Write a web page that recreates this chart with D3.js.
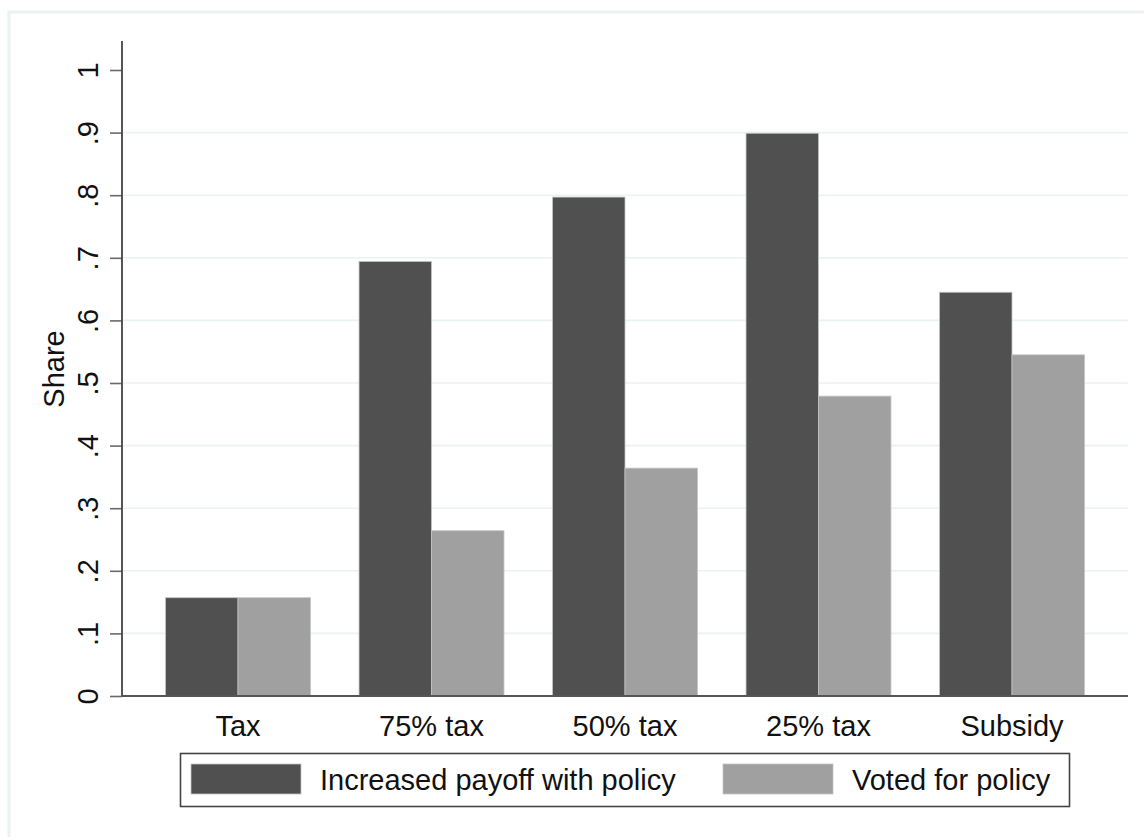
<!DOCTYPE html>
<html>
<head>
<meta charset="utf-8">
<script src="https://cdn.jsdelivr.net/npm/d3@7"></script>
<style>
  html, body { margin: 0; padding: 0; background: #ffffff; }
  svg { display: block; font-family: "Liberation Sans", Arial, sans-serif; }
</style>
</head>
<body>
<svg id="chart" width="1144" height="837"></svg>
<script>
// ---- data ----
const categories = ["Tax", "75% tax", "50% tax", "25% tax", "Subsidy"];
const seriesNames = ["Increased payoff with policy", "Voted for policy"];
const increasedPayoff = [0.157, 0.694, 0.797, 0.899, 0.645];
const votedForPolicy = [0.157, 0.264, 0.364, 0.479, 0.545];
const yTickValues = [0, 0.1, 0.2, 0.3, 0.4, 0.5, 0.6, 0.7, 0.8, 0.9, 1];
const yTickLabels = ["0", ".1", ".2", ".3", ".4", ".5", ".6", ".7", ".8", ".9", "1"];
const gridValues = [0.1, 0.2, 0.3, 0.4, 0.5, 0.6, 0.7, 0.8, 0.9];
const yTitle = "Share";

const colors = ["#505050", "#a0a0a0"];
const seriesValues = [increasedPayoff, votedForPolicy];
const rows = categories.map((c, i) => ({
  cat: c,
  vals: seriesNames.map((s, j) => ({ key: s, value: seriesValues[j][i], color: colors[j] }))
}));

const svg = d3.select("#chart");

// outer frame (Stata graph region)
svg.append("rect")
  .attr("x", 9).attr("y", 12)
  .attr("width", 1144).attr("height", 840)
  .attr("fill", "#ffffff")
  .attr("stroke", "#eaf2f2").attr("stroke-width", 3);

const left = 122, right = 1128, y0px = 696, y1px = 70;

const x = d3.scaleBand().domain(categories).range([left, right])
  .paddingInner(0.251).paddingOuter(0.225);
const xs = d3.scaleBand().domain(seriesNames).range([0, x.bandwidth()]).padding(0);
const y = d3.scaleLinear().domain([0, 1]).range([y0px, y1px]);

// gridlines
svg.append("g").selectAll("line").data(gridValues).join("line")
  .attr("x1", left).attr("x2", right)
  .attr("y1", d => y(d)).attr("y2", d => y(d))
  .attr("stroke", "#eaf2f3").attr("stroke-width", 1.6);

// bars
const groups = svg.append("g").selectAll("g").data(rows).join("g")
  .attr("transform", d => `translate(${x(d.cat)},0)`);
groups.selectAll("rect").data(d => d.vals).join("rect")
  .attr("x", d => xs(d.key))
  .attr("width", xs.bandwidth())
  .attr("y", d => y(d.value))
  .attr("height", d => y(0) - y(d.value))
  .attr("fill", d => d.color)
  .attr("stroke", "#c4c4c4").attr("stroke-width", 0.8);

// y axis
const yAxis = d3.axisLeft(y).tickValues(yTickValues)
  .tickFormat((d, i) => yTickLabels[i]).tickSize(12).tickSizeOuter(0);
const gy = svg.append("g").attr("transform", `translate(${left},0)`).call(yAxis);
gy.select(".domain").remove();
gy.selectAll(".tick line").attr("stroke", "#6a6a6a").attr("stroke-width", 1.6);
gy.selectAll(".tick text")
  .attr("x", 0).attr("y", 0).attr("dy", 0)
  .attr("transform", "translate(-24,0) rotate(-90)")
  .attr("text-anchor", "middle")
  .attr("fill", "#111").attr("font-size", 29)
  .attr("font-family", "Liberation Sans, Arial, sans-serif");
svg.append("line")
  .attr("x1", left).attr("x2", left).attr("y1", 41).attr("y2", y0px + 0.5)
  .attr("stroke", "#444").attr("stroke-width", 1.8);

// x axis
const xAxis = d3.axisBottom(x).tickSize(0).tickSizeOuter(0);
const gx = svg.append("g").attr("transform", `translate(0,${y0px})`).call(xAxis);
gx.select(".domain").remove();
gx.selectAll(".tick text")
  .attr("y", 40).attr("dy", 0)
  .attr("fill", "#111").attr("font-size", 29)
  .attr("font-family", "Liberation Sans, Arial, sans-serif");
svg.append("line")
  .attr("x1", left - 1).attr("x2", right).attr("y1", y0px).attr("y2", y0px)
  .attr("stroke", "#555").attr("stroke-width", 1.8);

// y title
svg.append("text")
  .attr("transform", `translate(64,369) rotate(-90)`)
  .attr("text-anchor", "middle")
  .attr("font-size", 29).attr("fill", "#111")
  .text(yTitle);

// legend
const lg = svg.append("g");
lg.append("rect")
  .attr("x", 180.5).attr("y", 753.5).attr("width", 889).attr("height", 53)
  .attr("fill", "#fff").attr("stroke", "#444").attr("stroke-width", 1.6);
const legendItems = [
  { name: seriesNames[0], color: colors[0], sx: 191, tx: 320 },
  { name: seriesNames[1], color: colors[1], sx: 723, tx: 852 }
];
lg.selectAll("rect.sw").data(legendItems).join("rect").attr("class", "sw")
  .attr("x", d => d.sx).attr("y", 764).attr("width", 110).attr("height", 30)
  .attr("fill", d => d.color).attr("stroke", "#c4c4c4").attr("stroke-width", 0.8);
lg.selectAll("text").data(legendItems).join("text")
  .attr("x", d => d.tx).attr("y", 790)
  .attr("font-size", 29).attr("fill", "#111")
  .text(d => d.name);
</script>
</body>
</html>
